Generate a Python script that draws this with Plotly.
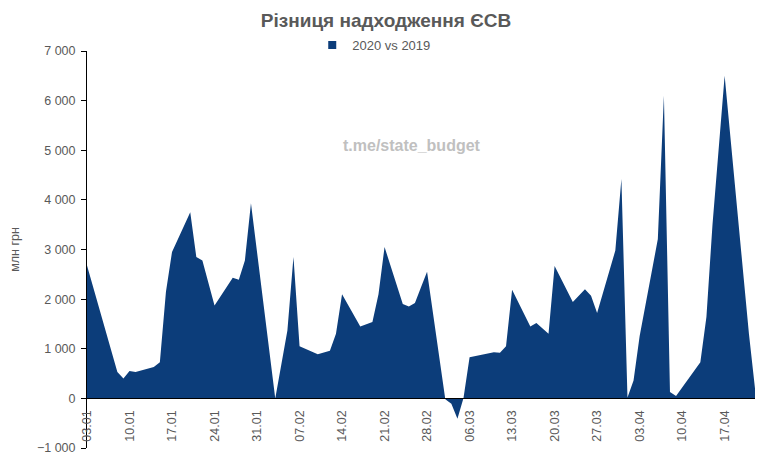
import plotly.graph_objects as go

# daily difference of ЄСВ receipts, 2020 vs 2019 (млн грн)
dates = [
    "2020-01-03", "2020-01-08", "2020-01-09", "2020-01-10", "2020-01-11",
    "2020-01-14", "2020-01-15", "2020-01-16", "2020-01-17", "2020-01-20",
    "2020-01-21", "2020-01-22", "2020-01-24", "2020-01-27", "2020-01-28",
    "2020-01-29", "2020-01-30", "2020-02-03", "2020-02-05", "2020-02-06",
    "2020-02-07", "2020-02-10", "2020-02-12", "2020-02-13", "2020-02-14",
    "2020-02-17", "2020-02-19", "2020-02-20", "2020-02-21", "2020-02-24",
    "2020-02-25", "2020-02-26", "2020-02-27", "2020-02-28", "2020-03-02",
    "2020-03-03", "2020-03-04", "2020-03-05", "2020-03-06", "2020-03-10",
    "2020-03-11", "2020-03-12", "2020-03-13", "2020-03-16", "2020-03-17",
    "2020-03-19", "2020-03-20", "2020-03-23", "2020-03-25", "2020-03-26",
    "2020-03-27", "2020-03-30", "2020-03-31", "2020-04-01", "2020-04-02",
    "2020-04-03", "2020-04-06", "2020-04-07", "2020-04-08", "2020-04-09",
    "2020-04-13", "2020-04-14", "2020-04-15", "2020-04-16", "2020-04-17",
    "2020-04-21", "2020-04-22",
]
diff_values = [
    2680, 530, 400, 550, 530,
    630, 730, 2150, 2950, 3750,
    2850, 2780, 1870, 2430, 2390,
    2780, 3930, 0, 1370, 2850,
    1050, 890, 960, 1300, 2100,
    1450, 1540, 2100, 3050, 1900,
    1850, 1920, 2240, 2550, -20,
    -110, -410, 10, 830, 930,
    920, 1050, 2190, 1450, 1520,
    1300, 2670, 1940, 2200, 2070,
    1720, 2980, 4420, 20, 360,
    1250, 3210, 6100, 130, 50,
    730, 1640, 3500, 5000, 6500,
    1300, 200,
]

# weekly tick labels
tick_dates = [
    "2020-01-03", "2020-01-10", "2020-01-17", "2020-01-24", "2020-01-31",
    "2020-02-07", "2020-02-14", "2020-02-21", "2020-02-28", "2020-03-06",
    "2020-03-13", "2020-03-20", "2020-03-27", "2020-04-03", "2020-04-10",
    "2020-04-17",
]
tick_labels = [d[8:10] + "." + d[5:7] for d in tick_dates]

blue = "#0c3d7a"
grey = "#595959"
font_name = "Liberation Sans"

# the page body adds an 8px margin, so the figure is 8px smaller
W, H = 756, 465

fig = go.Figure()

fig.add_trace(go.Scatter(
    x=dates,
    y=diff_values,
    mode="lines",
    line=dict(width=0, color=blue),
    fill="tozeroy",
    fillcolor=blue,
    showlegend=False,
))

# legend entry with a square swatch, like the Excel one
fig.add_trace(go.Scatter(
    x=[None], y=[None],
    mode="markers",
    marker=dict(symbol="square", size=8, color=blue),
    name="2020 vs 2019",
))

fig.update_layout(
    width=W,
    height=H,
    margin=dict(l=79, r=9, t=43, b=25, autoexpand=False),
    paper_bgcolor="white",
    plot_bgcolor="white",
    separators=", ",
    font=dict(family=font_name, size=12.5, color=grey),
    title=dict(
        text="<b>Різниця надходження ЄСВ</b>",
        x=0.5, xanchor="center",
        y=1 - 12 / H, yanchor="middle",
        font=dict(size=19, color=grey, family=font_name),
    ),
    legend=dict(
        orientation="h",
        x=0.43, xanchor="center",
        y=1 - 37 / H, yanchor="middle", yref="container",
        font=dict(size=13, color=grey),
        itemwidth=30,
        bgcolor="rgba(0,0,0,0)",
    ),
    annotations=[
        dict(
            text="<b>t.me/state_budget</b>",
            x=0.486, y=0.761,
            xref="paper", yref="paper",
            xanchor="center", yanchor="middle",
            showarrow=False,
            font=dict(size=16, color="#c0c0c0", family=font_name),
        )
    ],
)

fig.update_xaxes(
    type="date",
    range=["2020-01-03", "2020-04-22"],
    tickvals=tick_dates,
    ticktext=tick_labels,
    tickangle=-90,
    ticklabelstandoff=6,
    showgrid=False,
    showline=True,
    linecolor="black",
    linewidth=1,
    ticks="",
    anchor="free",
    position=0.125,
    zeroline=False,
    automargin=False,
)

fig.update_yaxes(
    range=[-1000, 7000],
    dtick=1000,
    tickformat=",d",
    ticklabelstandoff=3,
    showgrid=False,
    showline=True,
    linecolor="black",
    linewidth=1,
    ticks="outside",
    ticklen=5,
    tickcolor="black",
    zeroline=False,
    automargin=False,
    title=dict(text="млн грн", standoff=16, font=dict(size=12.5, color=grey)),
)

fig.write_html("out.html")
